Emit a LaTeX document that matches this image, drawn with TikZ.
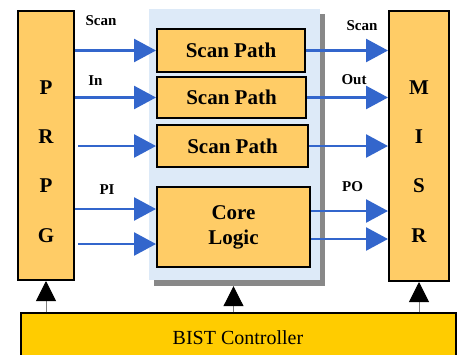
\documentclass[tikz,border=0pt]{standalone}
\usepackage{fontspec}
\setmainfont{Liberation Serif}
\usetikzlibrary{arrows.meta}
\definecolor{boxorange}{HTML}{FFCC66}
\definecolor{ctrlyellow}{HTML}{FFCC00}
\definecolor{flowblue}{HTML}{3366CC}
\definecolor{panelblue}{HTML}{DDEAF8}
\definecolor{shadowgray}{HTML}{888888}
\tikzset{
  unit/.style={draw=black, line width=2pt, fill=boxorange, inner sep=0pt,
    font=\bfseries\fontsize{21}{25}\selectfont, align=center},
  letter/.style={font=\bfseries\fontsize{21}{25}\selectfont, inner sep=0pt, anchor=base},
  lbl/.style={font=\bfseries\fontsize{15}{18}\selectfont, inner sep=0pt, anchor=base},
  sig/.style={draw=flowblue, line width=2.6pt, -{Triangle[length=22pt,width=23pt]}},
  ctl/.style={draw=gray, line width=1pt, -{Triangle[length=20pt,width=20pt,color=black]}},
}
\begin{document}
\begin{tikzpicture}[x=1pt, y=-1pt]
  \useasboundingbox (0,0) rectangle (458,354);
  \clip (0,0) rectangle (458,354);
  \fill[white] (0,0) rectangle (458,354);

  % shaded panel holding the circuit under test
  \node[fill=shadowgray, minimum width=171pt, minimum height=272pt, inner sep=0pt] (panelshade) at (239.5,150) {};
  \node[fill=panelblue, minimum width=171pt, minimum height=271pt, inner sep=0pt] (panel) at (234.5,144.5) {};

  % pattern generator and response compactor
  \node[unit, minimum width=56pt, minimum height=269pt] (prpg) at (46,145.5) {};
  \node[letter] (p1) at (46,94) {P};
  \node[letter] (p2) at (46,143) {R};
  \node[letter] (p3) at (46,192) {P};
  \node[letter] (p4) at (46,242) {G};

  \node[unit, minimum width=60pt, minimum height=270pt] (misr) at (419,146) {};
  \node[letter] (m1) at (419,94) {M};
  \node[letter] (m2) at (419,143) {I};
  \node[letter] (m3) at (419,192) {S};
  \node[letter] (m4) at (419,242) {R};

  % scan chains and core
  \node[unit, minimum width=148pt, minimum height=43pt] (sp1) at (231,50.5) {Scan Path};
  \node[unit, minimum width=149pt, minimum height=41pt] (sp2) at (231.5,97.5) {Scan Path};
  \node[unit, minimum width=151pt, minimum height=42pt] (sp3) at (232.5,146) {Scan Path};
  \node[unit, minimum width=153pt, minimum height=80pt] (core) at (233.5,227) {Core\\Logic};

  % controller
  \node[draw=black, line width=1.5pt, fill=ctrlyellow, minimum width=435pt, minimum height=57pt, inner sep=0pt] (bist) at (238.5,341.5) {};
  \node[font=\fontsize{20}{24}\selectfont, inner sep=0pt, anchor=base] (bisttext) at (238,344) {BIST Controller};

  % signal labels
  \node[lbl] (lscan) at (101,25) {Scan};
  \node[lbl] (lin) at (95.5,85) {In};
  \node[lbl] (lpi) at (107,194) {PI};
  \node[lbl] (rscan) at (362,30) {Scan};
  \node[lbl] (rout) at (354,84) {Out};
  \node[lbl] (rpo) at (352.5,191) {PO};

  % data flow
  \draw[sig] (prpg.east |- sp1.west) -- (sp1.west);
  \draw[sig] (prpg.east |- sp2.west) -- (sp2.west);
  \draw[sig] ([xshift=3pt]prpg.east |- sp3.west) -- (sp3.west);
  \draw[sig] (prpg.east |- 0,209) -- (core.west |- 0,209);
  \draw[sig] ([xshift=3pt]prpg.east |- 0,244) -- (core.west |- 0,244);

  \draw[sig] (sp1.east) -- (misr.west |- sp1.east);
  \draw[sig] (sp2.east) -- (misr.west |- sp2.east);
  \draw[sig] (sp3.east) -- (misr.west |- sp3.east);
  \draw[sig] (core.east |- 0,211) -- (misr.west |- 0,211);
  \draw[sig] (core.east |- 0,239) -- (misr.west |- 0,239);

  % control lines
  \draw[ctl] (prpg.south |- bist.north) -- (prpg.south);
  \draw[ctl] (core.south |- bist.north) -- (core.south |- panelshade.south);
  \draw[ctl] (misr.south |- bist.north) -- (misr.south);
\end{tikzpicture}
\end{document}
